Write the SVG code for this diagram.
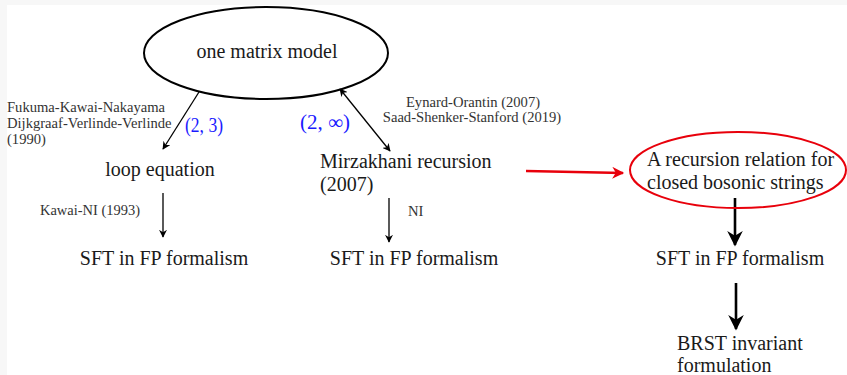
<svg xmlns="http://www.w3.org/2000/svg" width="847" height="375" viewBox="0 0 847 375">
<defs>
<style>
text{font-family:"Liberation Serif","DejaVu Serif",serif;fill:#1a1a1a}
.m{font-size:20px}
.s{font-size:14.6px;fill:#333}
.b{fill:#1a1aff;font-size:20px}
.thin{stroke:#000;stroke-width:1.3;fill:none}
.thick{stroke:#000;stroke-width:2.6;fill:none}
</style>
<marker id="ah" viewBox="0 0 10 10" refX="9" refY="5" markerWidth="8" markerHeight="8" markerUnits="userSpaceOnUse" orient="auto-start-reverse"><path d="M0,0 L10,5 L0,10 L3,5 z" fill="#000"/></marker>
<marker id="ahb" viewBox="0 0 10 10" refX="9" refY="5" markerWidth="6" markerHeight="6" orient="auto"><path d="M0,0 L10,5 L0,10 L3,5 z" fill="#000"/></marker>
<marker id="ahr" viewBox="0 0 10 10" refX="9" refY="5" markerWidth="14" markerHeight="12" markerUnits="userSpaceOnUse" orient="auto"><path d="M0,0 L10,5 L0,10 L3,5 z" fill="#e8000b"/></marker>
</defs>
<rect x="0" y="0" width="847" height="375" fill="#f7f7f7"/>
<rect x="7" y="5" width="840" height="370" fill="#fff"/>

<g id="connectors">
<line class="thin" x1="199" y1="92" x2="163" y2="149" marker-end="url(#ah)"/>
<line class="thin" x1="340" y1="89" x2="390" y2="151" marker-start="url(#ah)" marker-end="url(#ah)"/>
<line class="thin" x1="163" y1="193" x2="163" y2="237" marker-end="url(#ah)"/>
<line class="thin" x1="389" y1="198" x2="389" y2="242" marker-end="url(#ah)"/>
<line stroke="#e8000b" stroke-width="2.6" x1="526" y1="171" x2="623" y2="173" marker-end="url(#ahr)"/>
<line class="thick" x1="735" y1="198" x2="735" y2="245" marker-end="url(#ahb)"/>
<line class="thick" x1="736" y1="283" x2="736" y2="329" marker-end="url(#ahb)"/>
<text class="b" x="185" y="132" textLength="38" lengthAdjust="spacingAndGlyphs">(2, 3)</text>
<text class="b" x="300" y="129" textLength="50" lengthAdjust="spacingAndGlyphs">(2, ∞)</text>
<text class="s" x="7" y="112">Fukuma-Kawai-Nakayama</text>
<text class="s" x="7" y="128">Dijkgraaf-Verlinde-Verlinde</text>
<text class="s" x="7" y="144">(1990)</text>
<text class="s" x="473" y="107" text-anchor="middle">Eynard-Orantin (2007)</text>
<text class="s" x="472" y="122" text-anchor="middle">Saad-Shenker-Stanford (2019)</text>
<text class="s" x="40" y="215" textLength="100" lengthAdjust="spacingAndGlyphs">Kawai-NI (1993)</text>
<text class="s" x="408" y="216">NI</text>
</g>

<g id="one-matrix-model">
<ellipse cx="266" cy="53" rx="122" ry="46" fill="none" stroke="#000" stroke-width="2"/>
<text class="m" x="267" y="58" text-anchor="middle">one matrix model</text>
</g>
<g id="loop-equation">
<text class="m" x="160" y="176" text-anchor="middle">loop equation</text>
</g>
<g id="mirzakhani">
<text class="m" x="320" y="168">Mirzakhani recursion</text>
<text class="m" x="320" y="191">(2007)</text>
</g>
<g id="recursion-closed">
<ellipse cx="738" cy="170" rx="108" ry="38" fill="none" stroke="#e8000b" stroke-width="2"/>
<text class="m" x="647" y="166">A recursion relation for</text>
<text class="m" x="647" y="189">closed bosonic strings</text>
</g>
<g id="sft-left">
<text class="m" x="164" y="265" text-anchor="middle">SFT in FP formalism</text>
</g>
<g id="sft-middle">
<text class="m" x="414" y="265" text-anchor="middle">SFT in FP formalism</text>
</g>
<g id="sft-right">
<text class="m" x="740" y="265" text-anchor="middle">SFT in FP formalism</text>
</g>
<g id="brst">
<text class="m" x="677" y="350">BRST invariant</text>
<text class="m" x="677" y="372">formulation</text>
</g>
</svg>
